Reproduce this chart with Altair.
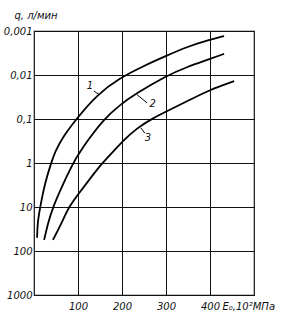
import altair as alt
import pandas as pd

# curve data
c1_x = [7, 8, 14, 25, 39, 48, 66, 98, 143, 195, 248, 300, 347, 398, 432]
c1_q = [50, 23, 10, 2.8, 1.0, 0.55, 0.25, 0.095, 0.028, 0.0117, 0.0063, 0.0037, 0.0023, 0.0016, 0.0013]
c2_x = [23, 32, 43, 66, 89, 105, 123, 157, 195, 230, 300, 347, 398, 432]
c2_q = [56, 23, 10, 3.0, 1.0, 0.55, 0.30, 0.105, 0.048, 0.027, 0.0105, 0.0066, 0.0044, 0.0033]
c3_x = [43, 63, 79, 100, 127, 155, 184, 200, 234, 271, 300, 347, 398, 455]
c3_q = [56, 23, 10, 5.2, 2.3, 1.0, 0.5, 0.33, 0.16, 0.095, 0.068, 0.04, 0.022, 0.0138]

lab_text = ["1", "2", "3"]
lab_x = [127, 270, 259]
lab_q = [0.018, 0.046, 0.27]

lead_id = ["1", "1", "2", "2", "3", "3"]
lead_x = [136, 148, 234, 257, 243, 252]
lead_q = [0.023, 0.028, 0.028, 0.043, 0.16, 0.21]

y_ticks = [0.001, 0.01, 0.1, 1, 10, 100, 1000]
x_ticks = [100, 200, 300, 400]

rows = []
for name, xs_, qs_ in [("1", c1_x, c1_q), ("2", c2_x, c2_q), ("3", c3_x, c3_q)]:
    for i, (a, b) in enumerate(zip(xs_, qs_)):
        rows.append({"curve": name, "E": a, "q": b, "o": i})
curves = pd.DataFrame(rows)
labels = pd.DataFrame({"t": lab_text, "E": lab_x, "q": lab_q})
leads = pd.DataFrame({"id": lead_id, "E": lead_x, "q": lead_q})

FONT = "DejaVu Sans"

xs = alt.Scale(domain=[0, 500], nice=False)
ys = alt.Scale(type="log", domain=[0.001, 1000], reverse=True, nice=False)

xaxis = alt.Axis(values=x_ticks, grid=True, gridColor="#111", gridOpacity=1,
                 gridWidth=1, ticks=False, domain=False, labelFont=FONT, labelFontStyle="italic",
                 labelFontSize=10, labelColor="#111", labelPadding=6,
                 title="E₀,10²МПа", titleFont=FONT, titleFontStyle="italic", titleFontWeight="normal",
                 titleFontSize=10, titleColor="#111", titleX=188, titleY=6, titleAlign="left",
                 titleBaseline="top")
yaxis = alt.Axis(values=y_ticks, grid=True, gridColor="#111", gridOpacity=1, gridWidth=1,
                 ticks=False, domain=False, labelFont=FONT, labelFontStyle="italic",
                 labelFontSize=10, labelColor="#111", labelPadding=2,
                 labelExpr="replace(toString(datum.value), '.', ',')",
                 title="q, л/мин", titleFont=FONT, titleFontStyle="italic", titleFontWeight="normal",
                 titleFontSize=10, titleColor="#111", titleAngle=0, titleX=-20, titleY=-16,
                 titleAlign="left", titleBaseline="middle")

base_lines = alt.Chart(curves).mark_line(color="black", strokeWidth=1.8, interpolate="basis").encode(
    x=alt.X("E:Q", scale=xs, axis=xaxis),
    y=alt.Y("q:Q", scale=ys, axis=yaxis),
    detail="curve:N",
    order="o:Q",
)

lead_lines = alt.Chart(leads).mark_line(color="black", strokeWidth=1).encode(
    x=alt.X("E:Q", scale=xs), y=alt.Y("q:Q", scale=ys), detail="id:N"
)

txt = alt.Chart(labels).mark_text(font=FONT, fontStyle="italic", fontSize=10, color="#111").encode(
    x=alt.X("E:Q", scale=xs), y=alt.Y("q:Q", scale=ys), text="t:N"
)

chart = alt.layer(base_lines, lead_lines, txt).properties(
    width=220, height=264,
    autosize=alt.AutoSizeParams(type="none"),
    padding={"left": 34, "top": 31, "right": 48, "bottom": 25},
    background="white",
).configure_view(stroke="#111", strokeWidth=1.2)

chart.save("out.html", embed_options={"renderer": "svg", "actions": False})
